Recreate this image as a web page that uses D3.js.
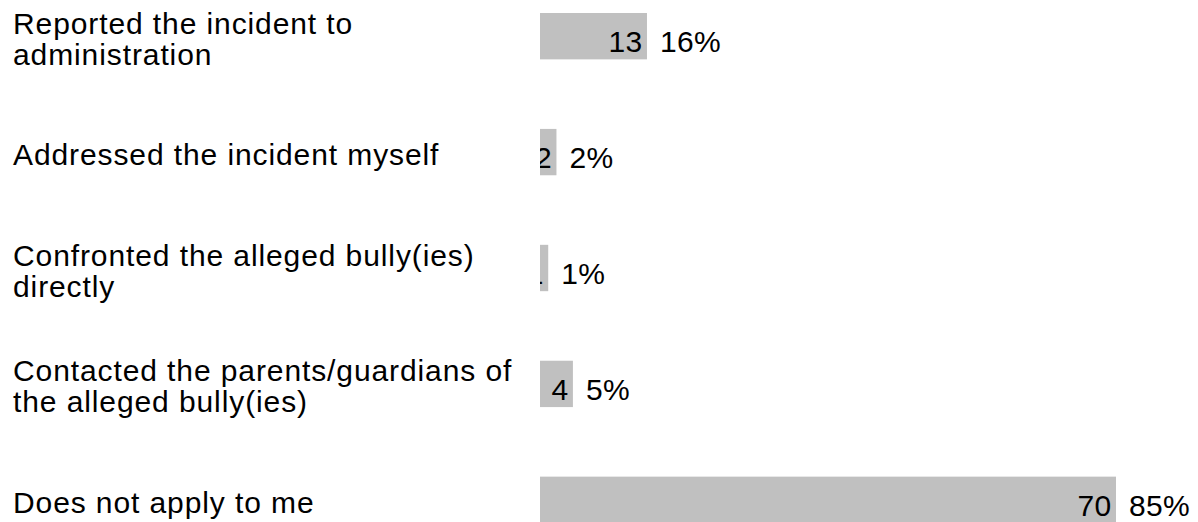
<!DOCTYPE html>
<html lang="en">
<head>
  <meta charset="UTF-8" />
  <title>Response to incident</title>
  <style>
    html, body { margin: 0; padding: 0; background: #fff; }
    svg { display: block; }
    .bar { fill: #c0c0c0; }
    .cat-label, .count-label, .pct-label {
      font-family: "Liberation Sans", Arial, sans-serif;
      fill: #000;
      font-size: 30px;
    }
    .cat-label { letter-spacing: 0.9px; }
    .count-label, .pct-label { letter-spacing: 0.3px; }
  </style>
</head>
<body>
  <script src="https://cdn.jsdelivr.net/npm/d3@7"></script>
  <script>
    var categories = [
      "Reported the incident to administration",
      "Addressed the incident myself",
      "Confronted the alleged bully(ies) directly",
      "Contacted the parents/guardians of the alleged bully(ies)",
      "Does not apply to me"
    ];
    var counts = [13, 2, 1, 4, 70];
    var percents = [16, 2, 1, 5, 85];

    var w = 1198, h = 522;
    var wrapWidth = 520;

    var data = categories.map(function(c, i) {
      return { cat: c, count: counts[i], pct: percents[i] };
    });

    var svg = d3.select("body").append("svg")
      .attr("width", w)
      .attr("height", h);

    var xScale = d3.scaleLinear()
      .domain([0, d3.max(counts)])
      .range([540, 1116]);

    var yScale = d3.scaleBand()
      .domain(categories)
      .range([13, 523])
      .paddingInner(0.6)
      .paddingOuter(0);

    var defs = svg.append("defs");
    defs.selectAll("clipPath")
      .data(data)
      .enter()
      .append("clipPath")
      .attr("id", function(d, i) { return "clip" + i; })
      .append("rect")
      .attr("x", xScale(0))
      .attr("y", function(d) { return yScale(d.cat); })
      .attr("width", function(d) { return xScale(d.count) - xScale(0); })
      .attr("height", yScale.bandwidth());

    svg.selectAll(".bar")
      .data(data)
      .enter()
      .append("rect")
      .attr("class", "bar")
      .attr("x", xScale(0))
      .attr("y", function(d) { return yScale(d.cat); })
      .attr("width", function(d) { return xScale(d.count) - xScale(0); })
      .attr("height", yScale.bandwidth());

    // count inside the bar end, cut off by the bar
    svg.selectAll(".count-label")
      .data(data)
      .enter()
      .append("text")
      .attr("class", "count-label")
      .attr("clip-path", function(d, i) { return "url(#clip" + i + ")"; })
      .attr("text-anchor", "end")
      .attr("x", function(d) { return xScale(d.count) - 4.5; })
      .attr("y", function(d) { return yScale(d.cat) + 39; })
      .text(function(d) { return d.count; });

    svg.selectAll(".pct-label")
      .data(data)
      .enter()
      .append("text")
      .attr("class", "pct-label")
      .attr("x", function(d) { return xScale(d.count) + 13; })
      .attr("y", function(d) { return yScale(d.cat) + 39; })
      .text(function(d) { return d.pct + "%"; });

    // category labels, wrapped into lines
    var labels = svg.selectAll(".cat-label")
      .data(data)
      .enter()
      .append("text")
      .attr("class", "cat-label")
      .attr("x", 13);

    labels.each(function(d) {
      var t = d3.select(this);
      var words = d.cat.split(" ");
      var lines = [];
      var line = [];
      var probe = t.append("tspan");
      words.forEach(function(word) {
        line.push(word);
        probe.text(line.join(" "));
        if (probe.node().getComputedTextLength() > wrapWidth && line.length > 1) {
          line.pop();
          lines.push(line.join(" "));
          line = [word];
        }
      });
      lines.push(line.join(" "));
      probe.remove();

      var mid = yScale(d.cat) + yScale.bandwidth() / 2;
      var first = mid + 13 - (lines.length - 1) * 31 / 2;
      lines.forEach(function(l, k) {
        t.append("tspan")
          .attr("x", 13)
          .attr("y", first + k * 31)
          .text(l);
      });
    });
  </script>
</body>
</html>
